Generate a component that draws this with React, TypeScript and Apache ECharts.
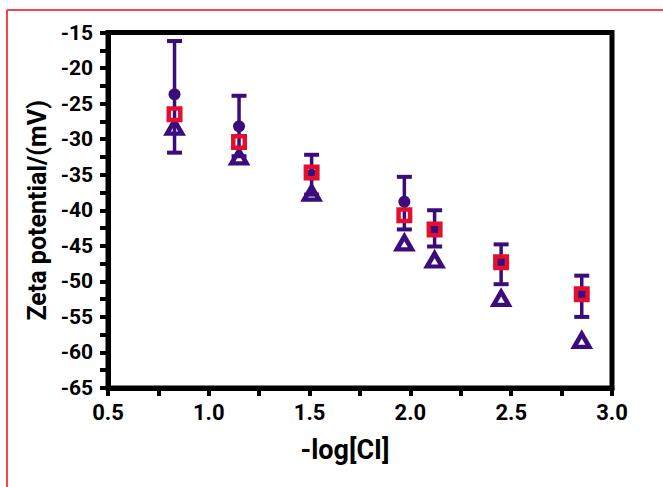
import React, { useEffect, useRef } from "react";
import * as echarts from "echarts";

const xValues = [0.83, 1.15, 1.51, 1.97, 2.12, 2.45, 2.85];
const circleValues = [-23.7, -28.2, -35.0, -38.8, -42.7, -47.4, -51.9];
const errUpper = [-16.2, -23.9, -32.2, -35.3, -40.0, -44.8, -49.2];
const errLower = [-31.9, -32.4, -37.8, -42.7, -45.1, -50.4, -55.0];
const squareValues = [-26.5, -30.4, -34.7, -40.7, -42.7, -47.3, -51.8];
const triangleValues = [-28.3, -32.5, -37.6, -44.6, -47.0, -52.4, -58.3];

const xTickLabels = ["0.5", "1.0", "1.5", "2.0", "2.5", "3.0"];

const INDIGO = "#3b0c7c";
const RED = "#e2102e";
const FONT = "Roboto, 'Liberation Sans', sans-serif";

export default function App() {
  const ref = useRef<HTMLDivElement>(null);
  useEffect(() => {
    if (!ref.current) return;
    const chart = echarts.init(ref.current, null, { renderer: "svg" });
    const errData = xValues.map((x, i) => [x, errLower[i], errUpper[i]]);
    chart.setOption({
      animation: false,
      backgroundColor: "#fff",
      graphic: [
        { type: "line", shape: { x1: 7, y1: 10, x2: 7, y2: 487 }, style: { stroke: "#f24646", lineWidth: 2 } },
        { type: "line", shape: { x1: 7, y1: 10, x2: 663, y2: 10 }, style: { stroke: "#f24646", lineWidth: 2 } },
      ],
      grid: {
        left: 108, right: 51, top: 32.5, bottom: 99,
        show: true, borderColor: "#000", borderWidth: 5, backgroundColor: "transparent",
      },
      xAxis: {
        type: "value", min: 0.5, max: 3.0, interval: 0.5,
        name: "-log[CI]", nameLocation: "middle", nameGap: 48,
        nameTextStyle: {
          fontFamily: FONT, fontWeight: "bold", fontSize: 27, color: "#000",
          padding: [0, 30, 0, 0],
        },
        axisLine: { show: true, lineStyle: { color: "#000", width: 5 } },
        axisTick: { show: true, length: 8, lineStyle: { color: "#000", width: 4 } },
        minorTick: { show: true, splitNumber: 2, length: 8, lineStyle: { color: "#000", width: 4 } },
        splitLine: { show: false },
        axisLabel: {
          margin: 13, fontFamily: FONT, fontWeight: "bold", fontSize: 22, color: "#000",
          formatter: (v: number) => xTickLabels.find((t) => Math.abs(parseFloat(t) - v) < 1e-6) ?? "",
        },
      },
      yAxis: {
        type: "value", min: -65, max: -15, interval: 5,
        name: "Zeta potential/(mV)", nameLocation: "middle", nameGap: 57,
        nameTextStyle: { fontFamily: FONT, fontWeight: "bold", fontSize: 25, color: "#000" },
        axisLine: { show: true, lineStyle: { color: "#000", width: 5 } },
        axisTick: { show: true, length: 8, lineStyle: { color: "#000", width: 4 } },
        minorTick: { show: true, splitNumber: 2, length: 8, lineStyle: { color: "#000", width: 4 } },
        splitLine: { show: false },
        axisLabel: { margin: 15, fontFamily: FONT, fontWeight: "bold", fontSize: 21, color: "#000" },
      },
      series: [
        {
          type: "custom",
          z: 1,
          data: errData,
          renderItem: (params: any, api: any) => {
            const x = api.value(0);
            const lo = api.coord([x, api.value(1)]);
            const hi = api.coord([x, api.value(2)]);
            const hw = 7.5;
            return {
              type: "group",
              children: [
                { type: "line", shape: { x1: lo[0], y1: lo[1], x2: hi[0], y2: hi[1] }, style: { stroke: INDIGO, lineWidth: 3.5 } },
                { type: "line", shape: { x1: lo[0] - hw, y1: lo[1], x2: lo[0] + hw, y2: lo[1] }, style: { stroke: INDIGO, lineWidth: 4 } },
                { type: "line", shape: { x1: hi[0] - hw, y1: hi[1], x2: hi[0] + hw, y2: hi[1] }, style: { stroke: INDIGO, lineWidth: 4 } },
              ],
            };
          },
        },
        {
          type: "scatter", z: 2,
          data: xValues.map((x, i) => [x, circleValues[i]]),
          symbol: "circle", symbolSize: 12,
          itemStyle: { color: INDIGO, opacity: 1 },
        },
        {
          type: "scatter", z: 3,
          data: xValues.map((x, i) => [x, triangleValues[i]]),
          symbol: "triangle", symbolSize: [15, 13],
          itemStyle: { color: "rgba(255,255,255,0)", borderColor: INDIGO, borderWidth: 4.5, opacity: 1 },
        },
        {
          type: "scatter", z: 4,
          data: xValues.map((x, i) => [x, squareValues[i]]),
          symbol: "rect", symbolSize: 11.5,
          itemStyle: { color: "rgba(255,255,255,0)", borderColor: RED, borderWidth: 4.5, opacity: 1 },
        },
      ],
    });
    return () => chart.dispose();
  }, []);
  return (
    <div
      ref={ref}
      style={{ position: "fixed", left: 0, top: 0, width: 663, height: 487, background: "#fff" }}
    />
  );
}
